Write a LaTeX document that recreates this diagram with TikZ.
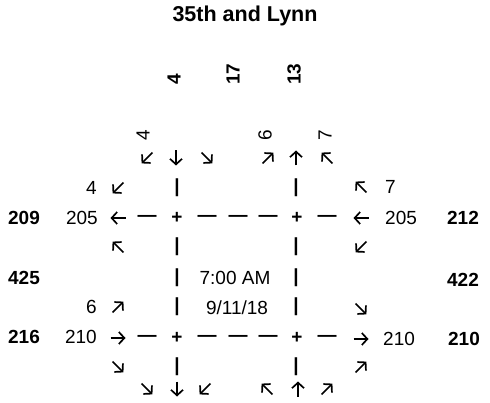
\documentclass[tikz,border=0pt]{standalone}
\usepackage{fontspec}
\setmainfont{Liberation Sans}
\usetikzlibrary{arrows.meta}

\tikzset{
    count/.style={font=\fontsize{19}{19}\selectfont, inner sep=0pt},
    total/.style={font=\fontsize{19}{19}\selectfont\bfseries, inner sep=0pt},
    roadmark/.style={font=\fontsize{19}{19}\selectfont\bfseries, inner sep=0pt},
    turn/.style={line width=1.7pt, -{Straight Barb[length=5.5pt, width=12pt]}}
}

\begin{document}
\begin{tikzpicture}[x=1pt, y=-1pt]
    \useasboundingbox (0,0) rectangle (490,403);
    \node[font=\fontsize{21.5}{22}\selectfont\bfseries, inner sep=0pt] (title) at (245,16) {35th and Lynn};

    % approach totals on top
    \foreach \n/\x/\w in {sbl/174/4, sbt/233/17, nbt/294/13} {
        \node[total, rotate=90, anchor=west] (top-\n) at (\x,85) {\w};
    }
    \foreach \n/\x/\w in {sbl/143/4, nbl/265/6, nbr/325/7} {
        \node[count, rotate=90] (cnt-\n) at (\x,135) {\w};
    }

    % road edges
    \foreach \x/\s in {177/w, 296/e} {
        \foreach \y/\r in {188/a, 247/b, 278/c, 307/d, 367/e} {
            \node[roadmark] (bar-\s\r) at (\x,\y) {|};
        }
    }
    \foreach \y/\s in {218/n, 338/s} {
        \foreach \x/\r in {147/a, 207/b, 238/c, 268/d, 327/e} {
            \node[roadmark] (dash-\s\r) at (\x,\y) {—};
        }
        \foreach \x/\r in {177/w, 297/e} {
            \node[roadmark] (cross-\s\r) at (\x,\y) {+};
        }
    }

    % turning arrows (dx/dy on screen, y down)
    \foreach \x/\dx/\dy in {147/-0.72/0.72, 176/0/1, 207/0.72/0.72, 268/0.72/-0.72, 296/0/-1, 327/-0.72/-0.72} {
        \draw[turn] (\x-7.5*\dx, 158-7.5*\dy) -- (\x+7.5*\dx, 158+7.5*\dy);
    }
    \foreach \x/\dx/\dy in {147/0.72/0.72, 177/0/1, 205/-0.72/0.72, 267/-0.72/-0.72, 298/0/-1, 327/0.72/-0.72} {
        \draw[turn] (\x-7.5*\dx, 389-7.5*\dy) -- (\x+7.5*\dx, 389+7.5*\dy);
    }
    \foreach \y/\dx/\dy in {188/-0.72/0.72, 218/-1/0, 247/-0.72/-0.72, 307/0.72/-0.72, 338/1/0, 367/0.72/0.72} {
        \draw[turn] (118-7.5*\dx, \y-7.5*\dy) -- (118+7.5*\dx, \y+7.5*\dy);
    }
    \foreach \y/\dx/\dy in {187/-0.72/-0.72, 218/-1/0, 247/-0.72/0.72, 309/0.72/0.72, 339/1/0, 367/0.72/-0.72} {
        \draw[turn] (361-7.5*\dx, \y-7.5*\dy) -- (361+7.5*\dx, \y+7.5*\dy);
    }

    % side counts
    \node[count, anchor=east] (cnt-wbl) at (97,188) {4};
    \node[count, anchor=east] (cnt-wbt) at (98,218) {205};
    \node[count, anchor=east] (cnt-ebl) at (97,307) {6};
    \node[count, anchor=east] (cnt-ebt) at (97,337) {210};
    \node[count, anchor=west] (cnt-wbr) at (385,187) {7};
    \node[count, anchor=west] (cnt-wbx) at (385,218) {205};
    \node[count, anchor=west] (cnt-ebx) at (383,339) {210};

    \node[total] (tot-209) at (24,218) {209};
    \node[total] (tot-425) at (24,278) {425};
    \node[total] (tot-216) at (24,337) {216};
    \node[total] (tot-212) at (463,218) {212};
    \node[total] (tot-422) at (463,280) {422};
    \node[total] (tot-210) at (464,339) {210};

    \node[count] (time) at (235,278) {7:00 AM};
    \node[count] (date) at (237,308) {9/11/18};
\end{tikzpicture}
\end{document}
